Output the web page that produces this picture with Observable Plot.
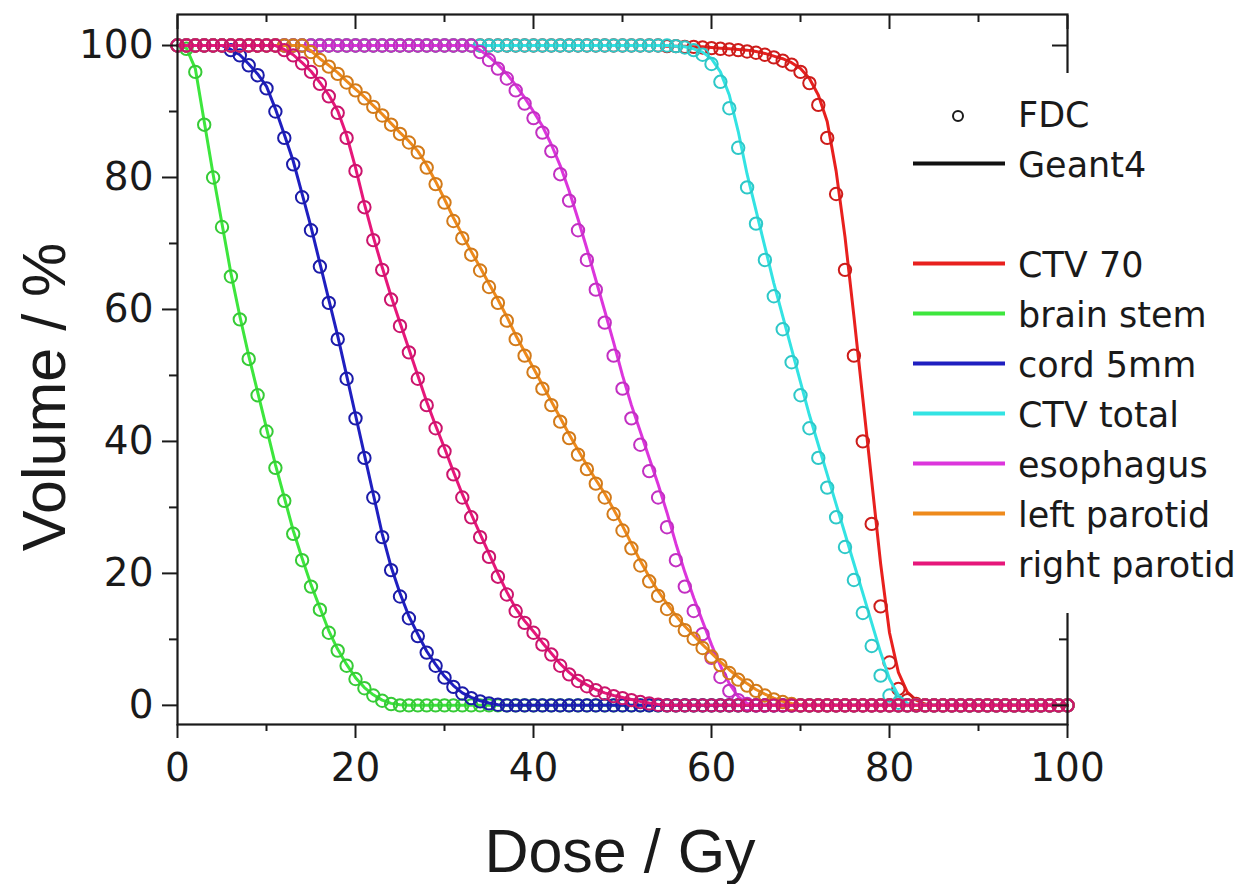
<!DOCTYPE html>
<html><head><meta charset="utf-8">
<script src="https://cdn.jsdelivr.net/npm/d3@7"></script>
<script src="https://cdn.jsdelivr.net/npm/@observablehq/plot@0.6"></script>
<style>html,body{margin:0;padding:0;background:#fff;} #chart{width:1252px;height:884px;}</style>
</head><body><div id="chart"></div>
<script>
// Dose grid (Gy), one FDC sample per Gy
const doseGy = Array.from({length: 101}, (_, i) => i);

// ---------- FDC (circles), volume % at dose 0..100 ----------
const fdcCTV70 = [
100,100,100,100,100,100,100,100,100,100,
100,100,100,100,100,100,100,100,100,100,
100,100,100,100,100,100,100,100,100,100,
100,100,100,100,100,100,100,100,100,100,
100,100,100,100,100,100,100,100,100,100,
100,100,100,100,100,99.9,99.9,99.8,99.8,99.7,
99.6,99.5,99.4,99.3,99.1,98.9,98.6,98.2,97.7,97.1,
96,94.3,91,86,77.5,66,53,40,27.5,15,
6.5,2.5,0.8,0.2,0,0,0,0,0,0,
0,0,0,0,0,0,0,0,0,0,
0];
const fdcBrainStem = [
100,99.5,96,88,80,72.5,65,58.5,52.5,47,
41.5,36,31,26,22,18,14.5,11,8.3,6,
4,2.6,1.5,0.7,0.2,0,0,0,0,0,
0,0,0,0,0,0,0,0,0,0,
0,0,0,0,0,0,0,0,0,0,
0,0,0,0,0,0,0,0,0,0,
0,0,0,0,0,0,0,0,0,0,
0,0,0,0,0,0,0,0,0,0,
0,0,0,0,0,0,0,0,0,0,
0,0,0,0,0,0,0,0,0,0,
0];
const fdcCord = [
100,100,100,100,100,100,99.3,98.5,97,95.5,
93.5,90,86,82,77,72,66.5,61,55.5,49.5,
43.5,37.5,31.5,25.5,20.5,16.5,13.2,10.5,8,6,
4.2,2.8,1.8,1.1,0.6,0.3,0.1,0,0,0,
0,0,0,0,0,0,0,0,0,0,
0,0,0,0,0,0,0,0,0,0,
0,0,0,0,0,0,0,0,0,0,
0,0,0,0,0,0,0,0,0,0,
0,0,0,0,0,0,0,0,0,0,
0,0,0,0,0,0,0,0,0,0,
0];
const fdcCTVTotal = [
100,100,100,100,100,100,100,100,100,100,
100,100,100,100,100,100,100,100,100,100,
100,100,100,100,100,100,100,100,100,100,
100,100,100,100,100,100,100,100,100,100,
100,100,100,100,100,100,100,100,100,100,
100,100,100,100,100,100,99.9,99.7,99.3,98.6,
97.2,94.5,90.5,84.5,78.5,73,67.5,62,57,52,
47,42,37.5,33,28.5,24,19,14,9,4.5,
1.5,0.4,0,0,0,0,0,0,0,0,
0,0,0,0,0,0,0,0,0,0,
0];
const fdcEsophagus = [
100,100,100,100,100,100,100,100,100,100,
100,100,100,100,100,100,100,100,100,100,
100,100,100,100,100,100,100,100,100,100,
100,100,100,100,99,97.8,96.5,95,93.2,91.2,
89,86.8,84,80.5,76.5,72,67.5,63,58,53,
48,43.5,39.5,35.5,31.5,27,22,18,14.3,10.8,
7.2,4.3,2.2,0.8,0.2,0,0,0,0,0,
0,0,0,0,0,0,0,0,0,0,
0,0,0,0,0,0,0,0,0,0,
0,0,0,0,0,0,0,0,0,0,
0];
const fdcLeftParotid = [
100,100,100,100,100,100,100,100,100,100,
100,100,100,100,100,99,97.8,96.8,95.7,94.4,
93.2,92,90.7,89.4,88,86.6,85.3,83.8,81.5,79,
76.2,73.4,70.8,68.3,65.9,63.4,61,58.3,55.5,53,
50.5,48,45.5,43,40.5,38,35.8,33.6,31.5,29,
26.5,23.8,21.2,18.8,16.6,14.6,12.9,11.4,10.1,8.7,
7.4,6.1,4.9,3.9,3,2.2,1.5,0.9,0.5,0.2,
0,0,0,0,0,0,0,0,0,0,
0,0,0,0,0,0,0,0,0,0,
0,0,0,0,0,0,0,0,0,0,
0];
const fdcRightParotid = [
100,100,100,100,100,100,100,100,100,100,
100,100,99.3,98.5,97.3,96,94.2,92.3,89.8,86,
81,75.5,70.5,66,61.5,57.5,53.5,49.5,45.5,42,
38.5,35,31.5,28.5,25.5,22.5,19.5,16.8,14.3,12.5,
11,9.2,7.7,6,4.7,3.7,2.9,2.3,1.8,1.4,
1.1,0.8,0.5,0.3,0.1,0,0,0,0,0,
0,0,0,0,0,0,0,0,0,0,
0,0,0,0,0,0,0,0,0,0,
0,0,0,0,0,0,0,0,0,0,
0,0,0,0,0,0,0,0,0,0,
0];

// ---------- Geant4 (lines), volume % at dose 0..100 ----------
const g4CTV70 = [
100,100,100,100,100,100,100,100,100,100,
100,100,100,100,100,100,100,100,100,100,
100,100,100,100,100,100,100,100,100,100,
100,100,100,100,100,100,100,100,100,100,
100,100,100,100,100,100,100,100,100,100,
100,100,100,100,100,99.9,99.9,99.9,99.8,99.8,
99.7,99.6,99.5,99.4,99.3,99.1,98.8,98.4,98,97.4,
96.5,95,92.5,88.5,81,71,59,46.5,34,21.5,
11,5,2,0.8,0.2,0,0,0,0,0,
0,0,0,0,0,0,0,0,0,0,
0];
const g4BrainStem = [
100,99.6,96.5,88.5,80.5,73,65.5,59,53,47.5,
42,36.5,31.5,26.5,22.3,18.3,14.8,11.3,8.5,6.2,
4.2,2.7,1.6,0.8,0.3,0.1,0,0,0,0,
0,0,0,0,0,0,0,0,0,0,
0,0,0,0,0,0,0,0,0,0,
0,0,0,0,0,0,0,0,0,0,
0,0,0,0,0,0,0,0,0,0,
0,0,0,0,0,0,0,0,0,0,
0,0,0,0,0,0,0,0,0,0,
0,0,0,0,0,0,0,0,0,0,
0];
const g4Cord = [
100,100,100,100,100,100,99.4,98.6,97.2,95.7,
93.8,90.4,86.5,82.5,77.5,72.5,67,61.5,56,50,
44,38,32,26,21,17,13.5,10.8,8.2,6.2,
4.4,3,1.9,1.2,0.7,0.35,0.1,0,0,0,
0,0,0,0,0,0,0,0,0,0,
0,0,0,0,0,0,0,0,0,0,
0,0,0,0,0,0,0,0,0,0,
0,0,0,0,0,0,0,0,0,0,
0,0,0,0,0,0,0,0,0,0,
0,0,0,0,0,0,0,0,0,0,
0];
const g4CTVTotal = [
100,100,100,100,100,100,100,100,100,100,
100,100,100,100,100,100,100,100,100,100,
100,100,100,100,100,100,100,100,100,100,
100,100,100,100,100,100,100,100,100,100,
100,100,100,100,100,100,100,100,100,100,
100,100,100,100,100,100,99.9,99.8,99.5,99,
98,96,92.5,87,80.5,75,69.5,64,59,54,
49,44,39.5,35,30.5,26,21.5,17,12.5,8,
4,1.5,0.3,0,0,0,0,0,0,0,
0,0,0,0,0,0,0,0,0,0,
0];
const g4Esophagus = [
100,100,100,100,100,100,100,100,100,100,
100,100,100,100,100,100,100,100,100,100,
100,100,100,100,100,100,100,100,100,100,
100,100,100,100,99.3,98.3,97.1,95.7,94,92.1,
90,87.8,85,81.8,78,73.7,69.2,64.5,59.8,55,
50,45.5,41.5,37.5,33.5,29.2,24.5,20.2,16.3,12.7,
9.2,6,3.3,1.3,0.3,0,0,0,0,0,
0,0,0,0,0,0,0,0,0,0,
0,0,0,0,0,0,0,0,0,0,
0,0,0,0,0,0,0,0,0,0,
0];
const g4LeftParotid = [
100,100,100,100,100,100,100,100,100,100,
100,100,100,100,100,99.2,98,97,95.9,94.6,
93.4,92.2,90.9,89.6,88.2,86.8,85.5,84,81.9,79.4,
76.7,73.9,71.3,68.8,66.4,63.9,61.5,58.9,56.1,53.6,
51.1,48.6,46.1,43.6,41.1,38.7,36.4,34.2,32.1,29.7,
27.2,24.5,21.9,19.5,17.3,15.4,13.6,12,10.6,9.2,
7.9,6.6,5.4,4.3,3.3,2.4,1.7,1.1,0.6,0.3,
0.1,0,0,0,0,0,0,0,0,0,
0,0,0,0,0,0,0,0,0,0,
0,0,0,0,0,0,0,0,0,0,
0];
const g4RightParotid = [
100,100,100,100,100,100,100,100,100,100,
100,100,99.4,98.6,97.4,96.1,94.4,92.5,90.1,86.4,
81.5,76,71,66.4,62,58,54,50,46,42.4,
39,35.4,32,29,26,23,20,17.2,14.7,12.8,
11.2,9.5,7.9,6.3,5,3.9,3.1,2.4,1.9,1.5,
1.2,0.9,0.6,0.35,0.15,0,0,0,0,0,
0,0,0,0,0,0,0,0,0,0,
0,0,0,0,0,0,0,0,0,0,
0,0,0,0,0,0,0,0,0,0,
0,0,0,0,0,0,0,0,0,0,
0];

const structures = ["CTV 70","brain stem","cord 5mm","CTV total","esophagus","left parotid","right parotid"];
const colors = ["#e8201e","#3de63d","#1f1fc0","#33e3e3","#dc35dc","#ee8a1c","#e6177a"];
const fdcSeries = [fdcCTV70, fdcBrainStem, fdcCord, fdcCTVTotal, fdcEsophagus, fdcLeftParotid, fdcRightParotid];
const g4Series = [g4CTV70, g4BrainStem, g4Cord, g4CTVTotal, g4Esophagus, g4LeftParotid, g4RightParotid];
const methodLabels = ["FDC", "Geant4"];

const xMajor = [0,20,40,60,80,100], xMinor = [10,30,50,70,90];
const yMajor = [0,20,40,60,80,100], yMinor = [10,30,50,70,90];

const ink = "#1a1a1a";
const marks = [];
structures.forEach((name, k) => {
  const g4 = doseGy.map((d, i) => ({dose: d, vol: g4Series[k][i]}));
  const fdc = doseGy.map((d, i) => ({dose: d, vol: fdcSeries[k][i]}));
  marks.push(Plot.line(g4, {x: "dose", y: "vol", stroke: colors[k], strokeWidth: 3}));
  marks.push(Plot.dot(fdc, {x: "dose", y: "vol", r: 6.2, fill: "none",
    stroke: d3.color(colors[k]).darker(0.35).formatHex(), strokeWidth: 2}));
});

const chart = Plot.plot({
  width: 1252, height: 884,
  marginLeft: 177, marginRight: 185, marginTop: 14, marginBottom: 160,
  style: {fontFamily: "DejaVu Sans", fontSize: "39px", color: ink, background: "white", overflow: "visible"},
  x: {domain: [0, 100]},
  y: {domain: [-2.9, 104.7]},
  marks: [
    ...marks,
    Plot.frame({stroke: ink, strokeWidth: 2.2}),
    Plot.axisX({ticks: xMajor, anchor: "bottom", tickSize: 14, tickPadding: 15, fontSize: 39, strokeWidth: 2, label: null, color: ink}),
    Plot.axisX({ticks: xMinor, anchor: "bottom", tickSize: 7, strokeWidth: 2, fill: "none", label: null, stroke: ink}),
    Plot.axisX({ticks: xMajor, anchor: "top", tickSize: -14, strokeWidth: 2, fill: "none", label: null, stroke: ink}),
    Plot.axisX({ticks: xMinor, anchor: "top", tickSize: -7, strokeWidth: 2, fill: "none", label: null, stroke: ink}),
    Plot.axisY({ticks: yMajor, anchor: "left", tickSize: 15, tickPadding: 9, fontSize: 39, strokeWidth: 2, label: null, color: ink}),
    Plot.axisY({ticks: yMinor, anchor: "left", tickSize: 8, strokeWidth: 2, fill: "none", label: null, stroke: ink}),
    Plot.axisY({ticks: yMajor, anchor: "right", tickSize: -16, strokeWidth: 2, fill: "none", label: null, stroke: ink}),
    Plot.axisY({ticks: yMinor, anchor: "right", tickSize: -9, strokeWidth: 2, fill: "none", label: null, stroke: ink})
  ]
});
document.getElementById("chart").appendChild(chart);

// Axis titles and legend
const svg = d3.select(chart);
svg.append("text").attr("x", 620).attr("y", 872).attr("text-anchor", "middle")
  .attr("font-family", "Liberation Sans, Arial, sans-serif").attr("font-size", 61).attr("fill", ink)
  .text("Dose / Gy");
svg.append("text").attr("transform", "translate(65,397) rotate(-90)").attr("text-anchor", "middle")
  .attr("font-family", "Liberation Sans, Arial, sans-serif").attr("font-size", 61).attr("fill", ink)
  .text("Volume / %");

const lg = svg.append("g");
lg.append("rect").attr("x", 905).attr("y", 73).attr("width", 347).attr("height", 540).attr("fill", "white");
const rows = [
  {label: methodLabels[0], kind: "dot", color: ink, base: 127},
  {label: methodLabels[1], kind: "line", color: "#111", base: 177},
  ...structures.map((s, k) => ({label: s, kind: "line", color: colors[k], base: 277 + 50 * k}))
];
rows.forEach(r => {
  if (r.kind === "dot") {
    lg.append("circle").attr("cx", 958).attr("cy", r.base - 11).attr("r", 5)
      .attr("fill", "none").attr("stroke", r.color).attr("stroke-width", 2);
  } else {
    lg.append("line").attr("x1", 913).attr("x2", 1005).attr("y1", r.base - 13.5).attr("y2", r.base - 13.5)
      .attr("stroke", r.color).attr("stroke-width", 4);
  }
  lg.append("text").attr("x", 1018).attr("y", r.base).attr("text-anchor", "start")
    .attr("font-family", "DejaVu Sans").attr("font-size", 35).attr("fill", ink).text(r.label);
});
</script>
</body></html>
